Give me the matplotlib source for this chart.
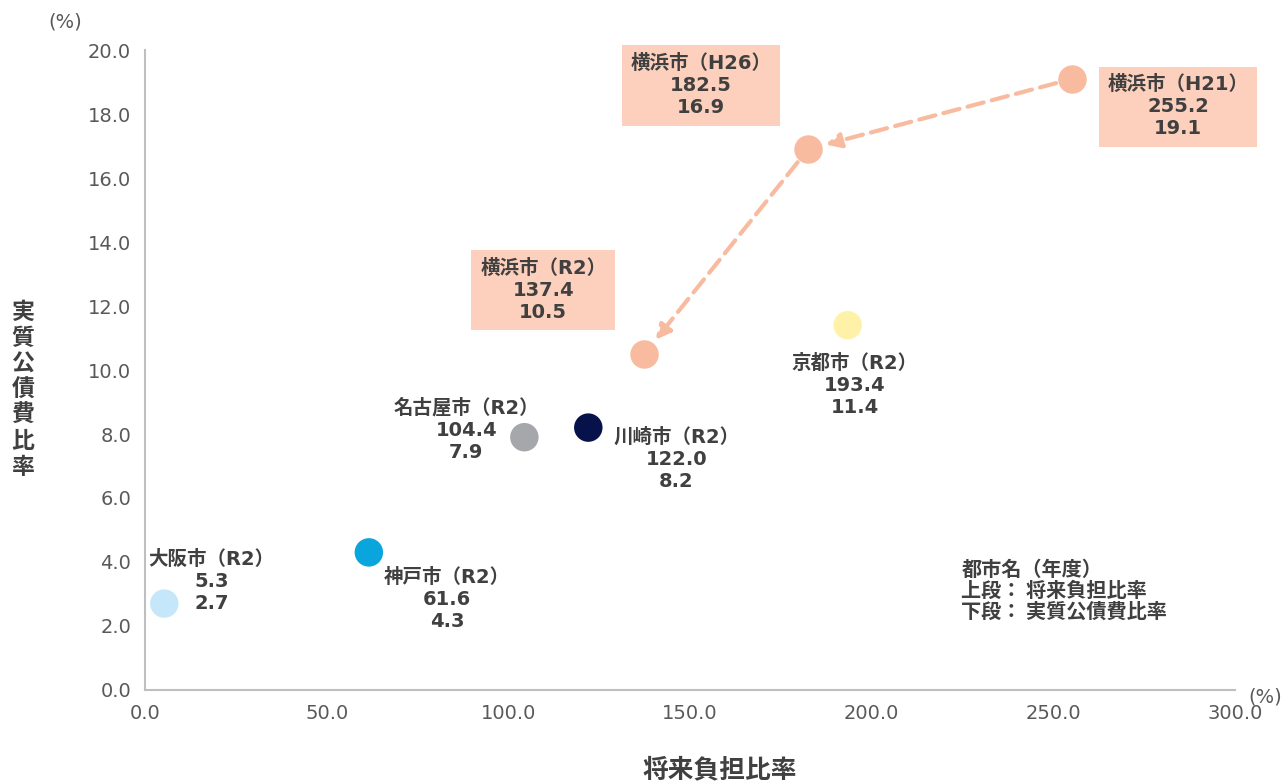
import matplotlib.pyplot as plt

plt.rcParams['font.family'] = ['DejaVu Sans', 'Noto Sans CJK JP']

# Yokohama trend (H21 -> H26 -> R2)
yoko_labels = ["横浜市（H21）", "横浜市（H26）", "横浜市（R2）"]
yoko_x = [255.2, 182.5, 137.4]
yoko_y = [19.1, 16.9, 10.5]

# other cities (R2)
city_labels = ["京都市（R2）", "名古屋市（R2）", "川崎市（R2）", "神戸市（R2）", "大阪市（R2）"]
city_x = [193.4, 104.4, 122.0, 61.6, 5.3]
city_y = [11.4, 7.9, 8.2, 4.3, 2.7]
city_colors = ["#FFF2A8", "#A5A7AA", "#07114A", "#0AA5DD", "#C6E7F9"]

x_ticks = [0, 50, 100, 150, 200, 250, 300]
y_ticks = [0, 2, 4, 6, 8, 10, 12, 14, 16, 18, 20]

YOKO_COLOR = "#F8BBA0"
BOX_COLOR = "#FCD0BC"
TEXT_COLOR = "#404040"
LBL = ['DejaVu Sans', 'Noto Sans CJK JP']
JP = ['Noto Sans CJK JP', 'DejaVu Sans']

fig = plt.figure(figsize=(12.87, 7.83), dpi=100)
ax = fig.add_axes([0.1127, 0.1188, 0.8469, 0.8173])

ax.scatter(yoko_x, yoko_y, s=420, color=YOKO_COLOR, zorder=3, linewidths=0)
ax.scatter(city_x, city_y, s=420, c=city_colors, zorder=3, linewidths=0)

# dashed arrows between Yokohama years
for i in range(len(yoko_x) - 1):
    ax.annotate("", xy=(yoko_x[i + 1], yoko_y[i + 1]), xytext=(yoko_x[i], yoko_y[i]),
                arrowprops=dict(arrowstyle="-|>", color=YOKO_COLOR, lw=3, linestyle=(0, (4, 2)),
                                mutation_scale=22, shrinkA=12, shrinkB=13), zorder=2)

# label offsets in pixels from each point
yoko_offsets = [(106, -28), (-107, 64), (-101, 64)]
city_offsets = [(7, -60), (-58, 7), (88, -32), (78, -47), (47, 22)]

for lab, x, y, off in zip(yoko_labels, yoko_x, yoko_y, yoko_offsets):
    ax.annotate(f"{lab}\n{x:.1f}\n{y:.1f}", xy=(x, y), xytext=off, textcoords="offset pixels",
                ha="center", va="center", fontsize=14, fontweight="bold", color=TEXT_COLOR,
                family=LBL, linespacing=1.2,
                bbox=dict(boxstyle="square,pad=0.45", fc=BOX_COLOR, ec="none"))

for lab, x, y, off in zip(city_labels, city_x, city_y, city_offsets):
    ax.annotate(f"{lab}\n{x:.1f}\n{y:.1f}", xy=(x, y), xytext=off, textcoords="offset pixels",
                ha="center", va="center", fontsize=14, fontweight="bold", color=TEXT_COLOR,
                family=LBL, linespacing=1.2)

ax.text(0.749, 0.156, "都市名（年度）\n上段： 将来負担比率\n下段： 実質公債費比率",
        transform=ax.transAxes, ha="left", va="center", fontsize=14.5, fontweight="bold",
        color=TEXT_COLOR, family=JP, linespacing=1.0)

ax.set_xlim(0, 300)
ax.set_ylim(0, 20)
ax.set_xticks(x_ticks)
ax.set_yticks(y_ticks)
ax.set_xticklabels([f"{v:.1f}" for v in x_ticks])
ax.set_yticklabels([f"{v:.1f}" for v in y_ticks])
ax.tick_params(length=0, labelsize=14, colors="#595959", pad=10)
for side in ["top", "right"]:
    ax.spines[side].set_visible(False)
for side in ["left", "bottom"]:
    ax.spines[side].set_color("#BFBFBF")
    ax.spines[side].set_linewidth(1.5)

fig.text(720 / 1287, 1 - 770 / 783, "将来負担比率", ha="center", va="center", fontsize=18.5,
         fontweight="bold", color=TEXT_COLOR, family=JP)
fig.text(23 / 1287, 1 - 390 / 783, "\n".join("実質公債費比率"), ha="center", va="center",
         fontsize=16.5, fontweight="bold", color=TEXT_COLOR, family=JP, linespacing=1.15)
fig.text(65 / 1287, 1 - 22 / 783, "(%)", ha="center", va="center", fontsize=14, color="#595959")
fig.text(1265 / 1287, 1 - 697 / 783, "(%)", ha="center", va="center", fontsize=14, color="#595959")

fig.savefig("out.png", dpi=100)
